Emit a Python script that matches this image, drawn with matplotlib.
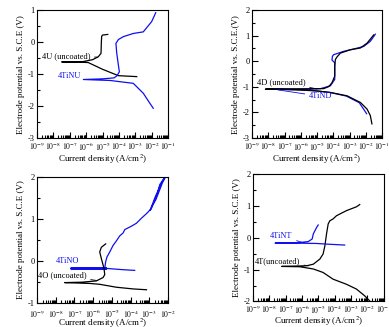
import numpy as np
import matplotlib.pyplot as plt
from matplotlib.ticker import FixedLocator, FuncFormatter, MultipleLocator

plt.rcParams['font.family'] = 'Liberation Serif'
plt.rcParams['mathtext.fontset'] = 'stix'
plt.rcParams['font.size'] = 6

# values are log10(current density, A/cm2) and potential (V vs SCE)
# panel 1: 4U / 4TiNU
u_logi = [-2.91, -4.03, -5.0, -5.87, -6.3, -7.49, -6.2, -5.6, -5.26, -5.09, -5.07, -5.05, -5.0, -4.68]
u_pot = [-1.08, -1.05, -0.85, -0.64, -0.63, -0.62, -0.61, -0.55, -0.46, -0.35, 0.0, 0.18, 0.22, 0.24]
tinu_logi = [-1.9, -2.1, -2.51, -3.12, -4.54, -6.17, -5.0, -4.3, -4.13, -3.97, -4.03, -4.13, -4.18,
             -4.03, -3.73, -3.12, -2.51, -2.0, -1.75]
tinu_pot = [-2.07, -1.92, -1.6, -1.29, -1.2, -1.17, -1.15, -1.12, -1.06, -0.93, -0.72, -0.35, -0.04,
            0.08, 0.17, 0.27, 0.32, 0.64, 0.92]

# panel 2: 4D / 4TiND
d_logi = [-1.62, -1.72, -1.92, -2.33, -3.15, -4.18, -5.0, -6.23, -8.18, -4.59, -4.28, -4.08, -3.91,
          -3.91, -3.87, -3.77, -3.56, -2.95, -2.33, -1.92, -1.51]
d_pot = [-2.45, -2.12, -1.87, -1.61, -1.35, -1.22, -1.16, -1.12, -1.09, -1.07, -0.99, -0.84, -0.58,
         -0.19, 0.07, 0.17, 0.32, 0.45, 0.52, 0.71, 1.03]
tind_logi = [-1.95, -2.05, -2.4, -3.2, -4.2, -5.6, -8.1, -5.6, -4.79, -4.18, -3.91, -3.91, -4.08,
             -4.05, -3.97, -3.77, -3.36, -2.74, -2.13, -1.72, -1.41]
tind_pot = [-2.05, -1.95, -1.62, -1.36, -1.22, -1.12, -1.08, -1.09, -1.07, -0.96, -0.71, -0.06, 0.05,
            0.2, 0.26, 0.3, 0.39, 0.48, 0.58, 0.78, 1.06]

# panel 3: 4O / 4TiNO
o_logi = [-3.15, -3.87, -4.76, -5.65, -6.18, -7.52, -6.6, -5.83, -5.65, -5.47, -5.38, -5.42, -5.47,
          -5.56, -5.65, -5.56, -5.33]
o_pot = [-0.69, -0.67, -0.63, -0.56, -0.54, -0.52, -0.51, -0.48, -0.44, -0.4, -0.33, -0.18, -0.1,
         0.05, 0.21, 0.32, 0.4]
tino_logi = [-3.78, -4.49, -5.38, -7.16, -5.38, -5.33, -5.26, -5.11, -4.94, -4.76, -4.58, -4.4, -4.31,
             -3.96, -3.69, -3.42, -3.15, -2.89, -2.7, -2.55, -2.44, -2.3, -2.17, -2.3, -2.5, -2.65,
             -2.85, -2.95, -2.7, -2.4, -2.2]
tino_pot = [-0.23, -0.21, -0.18, -0.18, -0.18, -0.02, 0.09, 0.21, 0.36, 0.47, 0.59, 0.66, 0.74,
            0.82, 0.89, 1.01, 1.12, 1.24, 1.45, 1.62, 1.81, 1.9, 1.96, 1.85, 1.62, 1.45, 1.3, 1.2,
            1.5, 1.8, 1.98]

# panel 4: 4T / 4TiNT
t_logi = [-1.85, -2.16, -2.66, -3.27, -4.09, -4.7, -5.3, -6.12, -7.23, -5.71, -5.3, -4.9, -4.7,
          -4.59, -4.49, -4.39, -4.29, -4.09, -3.88, -3.27, -2.66, -2.46]
t_pot = [-1.98, -1.82, -1.61, -1.46, -1.3, -1.09, -0.98, -0.91, -0.9, -0.88, -0.83, -0.67, -0.51,
         -0.25, 0.12, 0.43, 0.53, 0.59, 0.69, 0.85, 0.97, 1.04]
tint_logi = [-3.38, -4.49, -5.1, -6.2, -7.64, -6.12, -5.61, -5.37, -5.3, -5.2, -5.1, -5.0]
tint_pot = [-0.23, -0.2, -0.18, -0.17, -0.17, -0.15, -0.12, -0.04, 0.12, 0.22, 0.32, 0.40]

BLUE = '#1010ee'
ylab = 'Electrode potential vs. S.C.E (V)'
xlab = 'Current density (A/cm$^2$)'


def setup(ax, xmax, ymin, ymax, xpad=2, ylabel=ylab):
    ax.set_xlim(-9, xmax)
    ax.set_ylim(ymin, ymax)
    ax.set_xticks(range(-9, xmax + 1))
    ax.xaxis.set_major_formatter(FuncFormatter(lambda v, p: r'$10^{%d}$' % round(v)))
    minors = [n + np.log10(k) for n in range(-9, xmax) for k in range(2, 10)]
    ax.xaxis.set_minor_locator(FixedLocator(minors))
    ax.yaxis.set_major_locator(MultipleLocator(1))
    ax.yaxis.set_minor_locator(MultipleLocator(0.5))
    ax.yaxis.set_major_formatter(FuncFormatter(lambda v, p: '%d' % round(v)))
    ax.tick_params(which='both', direction='in', top=False, right=False, width=0.8)
    ax.tick_params(which='major', length=4)
    ax.tick_params(which='minor', length=2)
    ax.tick_params(axis='x', pad=xpad, labelsize=5.5)
    ax.tick_params(axis='y', pad=1.5, labelsize=6)
    ax.set_xlabel(xlab, fontsize=6.5, labelpad=0)
    ax.set_ylabel(ylabel, fontsize=6.5, labelpad=2)
    for s in ax.spines.values():
        s.set_linewidth(0.8)


def label(ax, text, xy, xytext, color, ha='left'):
    ax.annotate(text, xy=xy, xytext=xytext, color=color, fontsize=6, va='center', ha=ha,
                arrowprops=dict(arrowstyle='-', color=color, lw=0.6, shrinkA=1, shrinkB=0))


fig = plt.figure(figsize=(3.89, 3.27), dpi=100)

ax1 = fig.add_axes([0.0951, 0.578, 0.3368, 0.391])
ax1.plot(u_logi, u_pot, color='black', lw=0.9)
ax1.plot(tinu_logi, tinu_pot, color=BLUE, lw=0.9)
setup(ax1, -1, -3, 1)
label(ax1, '4U (uncoated)', (-5.3, -0.47), (-8.7, -0.45), 'black')
label(ax1, '4TiNU', (-6.1, -1.17), (-7.7, -1.06), BLUE)

ax2 = fig.add_axes([0.648, 0.578, 0.334, 0.391])
ax2.plot(tind_logi, tind_pot, color=BLUE, lw=0.9)
ax2.plot(d_logi, d_pot, color='black', lw=0.9)
setup(ax2, -1, -3, 2, ylabel='Electrode potential vs. S.C.E.(V)')
label(ax2, '4D (uncoated)', (-5.0, -1.08), (-8.7, -0.81), 'black')
label(ax2, '4TiND', (-7.4, -1.12), (-5.5, -1.37), BLUE)

ax3 = fig.add_axes([0.0951, 0.074, 0.3368, 0.386])
ax3.plot(tino_logi, tino_pot, color=BLUE, lw=0.9)
ax3.plot(tino_logi[2:5], tino_pot[2:5], color=BLUE, lw=1.8)
ax3.plot(o_logi, o_pot, color='black', lw=0.9)
setup(ax3, -2, -1, 2, xpad=4)
ax3.xaxis.labelpad = -3
label(ax3, '4O (uncoated)', (-5.8, -0.47), (-8.95, -0.35), 'black')
label(ax3, '4TiNO', (-6.5, -0.18), (-7.97, 0.0), BLUE)

ax4 = fig.add_axes([0.650, 0.078, 0.336, 0.39])
ax4.plot(t_logi, t_pot, color='black', lw=0.9)
ax4.plot(tint_logi, tint_pot, color=BLUE, lw=0.9)
setup(ax4, -1, -2, 2, xpad=1.5)
ax4.xaxis.labelpad = -1
label(ax4, '4T(uncoated)', (-5.6, -0.88), (-8.9, -0.74), 'black')
label(ax4, '4TiNT', (-5.9, -0.16), (-7.94, 0.06), BLUE)

fig.savefig('out.png', dpi=100)
